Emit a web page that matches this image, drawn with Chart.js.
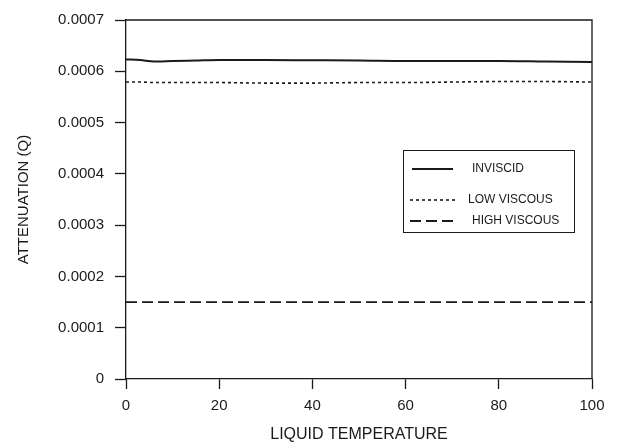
<!DOCTYPE html>
<html>
<head>
<meta charset="utf-8">
<script src="https://cdn.jsdelivr.net/npm/chart.js@4"></script>
<style>
  html, body { margin: 0; padding: 0; background: #fff; }
  #wrap { width: 635px; height: 444px; }
</style>
</head>
<body>
<div id="wrap"><canvas id="chart"></canvas></div>
<script>
// liquid temperature samples
const temps = [0, 3, 6, 10, 15, 20, 30, 40, 50, 60, 70, 80, 90, 100]
const inviscid = [0.000623, 0.000622, 0.000619, 0.00062, 0.000621, 0.000622, 0.000622, 0.0006215, 0.000621, 0.00062, 0.00062, 0.00062, 0.000619, 0.000618]
const lowViscous = [0.000579, 0.000579, 0.000578, 0.000578, 0.000578, 0.000578, 0.000577, 0.000577, 0.000578, 0.000578, 0.000579, 0.00058, 0.00058, 0.000579]
const highViscous = [0.00015, 0.00015, 0.00015, 0.00015, 0.00015, 0.00015, 0.00015, 0.00015, 0.00015, 0.00015, 0.00015, 0.00015, 0.00015, 0.00015]

const seriesNames = ["INVISCID", "LOW VISCOUS", "HIGH VISCOUS"]
const yTicks = [0, 0.0001, 0.0002, 0.0003, 0.0004, 0.0005, 0.0006, 0.0007]

const ink = '#1a1a1a'
const fontFamily = '"Liberation Sans", Arial, sans-serif'

function toPoints(ys) {
    return temps.map((t, i) => ({x: t, y: ys[i]}))
}

// box round the plot + legend drawn inside the chart area
const framePlugin = {
    id: 'frame',
    afterDatasetsDraw(chart) {
        const {ctx, chartArea: a} = chart
        ctx.save()
        ctx.strokeStyle = ink
        ctx.lineWidth = 1.3
        ctx.beginPath()
        ctx.moveTo(a.left, a.top)
        ctx.lineTo(a.right, a.top)
        ctx.lineTo(a.right, a.bottom)
        ctx.stroke()

        // legend
        const box = {x: 403.5, y: 150.5, w: 171, h: 82}
        ctx.lineWidth = 1
        ctx.strokeRect(box.x, box.y, box.w, box.h)
        const rows = [
            {y: 169, x1: 412, x2: 453, tx: 472},
            {y: 200, x1: 410, x2: 455, tx: 468},
            {y: 221, x1: 410, x2: 455, tx: 472}
        ]
        ctx.font = '12px ' + fontFamily
        ctx.textBaseline = 'middle'
        ctx.fillStyle = ink
        chart.data.datasets.forEach((ds, i) => {
            const r = rows[i]
            ctx.strokeStyle = ds.borderColor
            ctx.lineWidth = ds.borderWidth
            ctx.setLineDash(ds.borderDash || [])
            ctx.beginPath()
            ctx.moveTo(r.x1, r.y)
            ctx.lineTo(r.x2, r.y)
            ctx.stroke()
            ctx.setLineDash([])
            ctx.fillText(ds.label, r.tx, r.y)
        })
        ctx.restore()
    }
}

new Chart(document.getElementById('chart'), {
    type: 'line',
    data: {
        datasets: [
            {label: seriesNames[0], data: toPoints(inviscid), borderColor: ink, borderWidth: 2, borderDash: []},
            {label: seriesNames[1], data: toPoints(lowViscous), borderColor: ink, borderWidth: 1.6, borderDash: [3, 3]},
            {label: seriesNames[2], data: toPoints(highViscous), borderColor: ink, borderWidth: 1.8, borderDash: [11, 5]}
        ]
    },
    options: {
        responsive: true,
        maintainAspectRatio: false,
        animation: false,
        elements: {
            point: {radius: 0},
            line: {tension: 0.3, cubicInterpolationMode: 'monotone'}
        },
        layout: {
            padding: {left: 11, right: 43, top: 17, bottom: 0}
        },
        scales: {
            x: {
                type: 'linear',
                min: 0,
                max: 100,
                afterFit: (s) => { s.height = 65 },
                ticks: {
                    stepSize: 20,
                    color: ink,
                    padding: 8,
                    font: {family: fontFamily, size: 15}
                },
                grid: {
                    drawOnChartArea: false,
                    tickLength: 10,
                    tickColor: ink,
                    tickWidth: 1.3
                },
                border: {color: ink, width: 1.3},
                title: {
                    display: true,
                    text: 'LIQUID TEMPERATURE',
                    color: ink,
                    padding: {top: 4, bottom: 0},
                    font: {family: fontFamily, size: 16}
                }
            },
            y: {
                min: 0,
                max: 0.0007,
                afterFit: (s) => { s.width = 115 },
                afterBuildTicks: (s) => { s.ticks = yTicks.map(v => ({value: v})) },
                ticks: {
                    color: ink,
                    padding: 11,
                    font: {family: fontFamily, size: 15},
                    callback: (v) => v === 0 ? '0' : v.toFixed(4)
                },
                grid: {
                    drawOnChartArea: false,
                    tickLength: 11,
                    tickColor: ink,
                    tickWidth: 1.3
                },
                border: {color: ink, width: 1.3},
                title: {
                    display: true,
                    text: 'ATTENUATION (Q)',
                    color: ink,
                    font: {family: fontFamily, size: 15}
                }
            }
        },
        plugins: {
            legend: {display: false},
            tooltip: {enabled: false}
        }
    },
    plugins: [framePlugin]
})
</script>
</body>
</html>
